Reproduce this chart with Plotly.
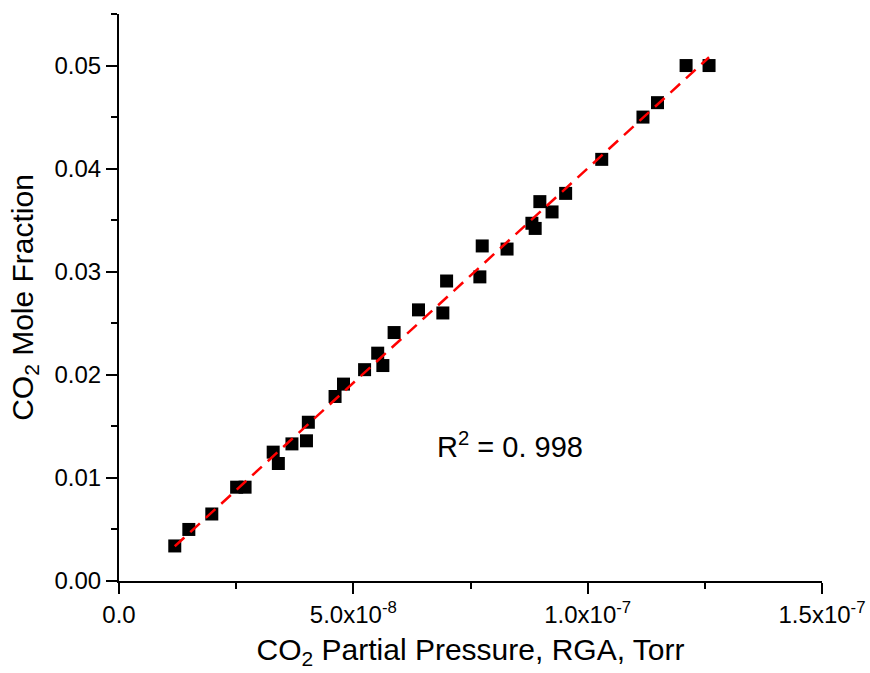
import numpy as np
import plotly.graph_objects as go

# CO2 partial pressure (Torr) measured by RGA
pressure = [1.19e-8, 1.49e-8, 1.98e-8, 2.51e-8, 2.69e-8, 3.29e-8, 3.40e-8, 3.69e-8,
            4.00e-8, 4.04e-8, 4.61e-8, 4.79e-8, 5.24e-8, 5.52e-8, 5.63e-8, 5.87e-8,
            6.39e-8, 6.91e-8, 6.99e-8, 7.70e-8, 7.75e-8, 8.28e-8, 8.81e-8, 8.88e-8,
            8.98e-8, 9.24e-8, 9.53e-8, 1.030e-7, 1.118e-7, 1.149e-7, 1.210e-7, 1.259e-7]
# CO2 mole fraction
mole_frac = [0.0034, 0.0050, 0.0065, 0.0091, 0.0091, 0.0125, 0.0114, 0.0133,
             0.0136, 0.0154, 0.0179, 0.0191, 0.0205, 0.0221, 0.0209, 0.0241,
             0.0263, 0.0260, 0.0291, 0.0295, 0.0325, 0.0322, 0.0347, 0.0342,
             0.0368, 0.0358, 0.0376, 0.0409, 0.0450, 0.0464, 0.0500, 0.0500]

x_tickvals = [0, 5e-8, 1e-7, 1.5e-7]
x_ticktext = ["0.0", "5.0x10<sup>-8</sup>", "1.0x10<sup>-7</sup>", "1.5x10<sup>-7</sup>"]
y_tickvals = [0.00, 0.01, 0.02, 0.03, 0.04, 0.05]
y_ticktext = ["0.00", "0.01", "0.02", "0.03", "0.04", "0.05"]
r2_label = "R<sup>2</sup> = 0. 998"

xa = np.array(pressure)
ya = np.array(mole_frac)
slope, intercept = np.polyfit(xa, ya, 1)
fit_x = [xa.min(), xa.max()]
fit_y = [slope * v + intercept for v in fit_x]

FONT = "Liberation Sans, Arial, sans-serif"

fig = go.Figure()
fig.add_trace(go.Scatter(
    x=pressure, y=mole_frac, mode="markers",
    marker=dict(symbol="square", size=13, color="black", line=dict(width=0)),
    showlegend=False,
))
fig.add_trace(go.Scatter(
    x=fit_x, y=fit_y, mode="lines",
    line=dict(color="red", width=2.5, dash="13px,8px"),
    showlegend=False,
))

fig.add_annotation(
    x=8.34e-8, y=0.0132, xref="x", yref="y", text=r2_label, showarrow=False,
    font=dict(family=FONT, size=29, color="black"),
)

fig.update_layout(
    width=870, height=673,
    margin=dict(l=119, r=48, t=14, b=92),
    paper_bgcolor="white", plot_bgcolor="white",
    font=dict(family=FONT, color="black"),
    xaxis=dict(
        range=[0, 1.5e-7], showgrid=False, zeroline=False, automargin=False,
        showline=True, linecolor="black", linewidth=2,
        ticks="outside", ticklen=11, tickwidth=2, tickcolor="black",
        tickvals=x_tickvals, ticktext=x_ticktext,
        tickfont=dict(family=FONT, size=24),
        minor=dict(dtick=2.5e-8, tick0=0, ticks="outside", ticklen=6, tickwidth=2, tickcolor="black"),
        title=dict(text="CO<sub>2</sub> Partial Pressure, RGA, Torr",
                   font=dict(family=FONT, size=30), standoff=12),
    ),
    yaxis=dict(
        range=[0, 0.055], showgrid=False, zeroline=False, automargin=False,
        showline=True, linecolor="black", linewidth=2,
        ticks="outside", ticklen=11, tickwidth=2, tickcolor="black",
        tickvals=y_tickvals, ticktext=y_ticktext,
        tickfont=dict(family=FONT, size=24),
        minor=dict(dtick=0.005, tick0=0, ticks="outside", ticklen=6, tickwidth=2, tickcolor="black"),
        title=dict(text="CO<sub>2</sub> Mole Fraction",
                   font=dict(family=FONT, size=30), standoff=12),
    ),
)

fig.write_html("out.html")
